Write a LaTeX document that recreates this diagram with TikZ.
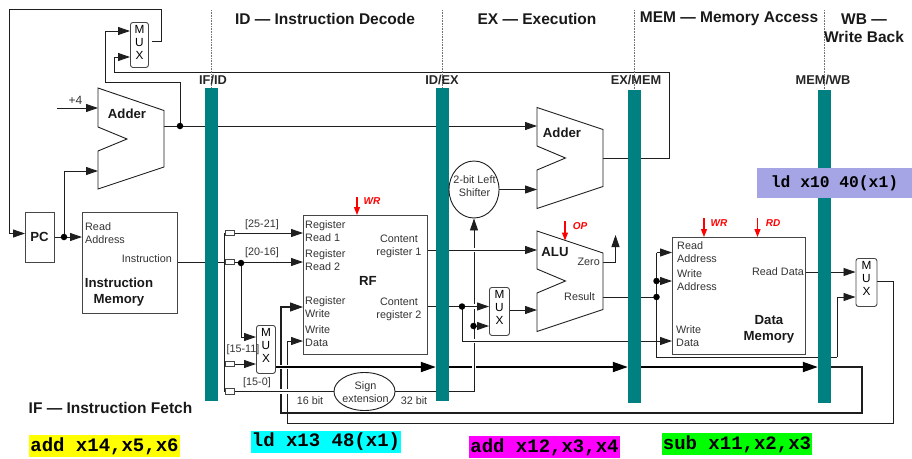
\documentclass[tikz,border=0pt]{standalone}
\usepackage{fontspec}
\setmainfont{Liberation Sans}
\newfontfamily\codefont{Liberation Mono}
\usepackage{xcolor}
\definecolor{pipeTeal}{RGB}{0, 128, 128}
\definecolor{wireDark}{RGB}{30, 30, 30}
\definecolor{boxGrey}{RGB}{70, 70, 70}
\definecolor{instrYellow}{RGB}{255, 255, 0}
\definecolor{instrCyan}{RGB}{0, 255, 255}
\definecolor{instrMagenta}{RGB}{255, 0, 255}
\definecolor{instrGreen}{RGB}{0, 255, 0}
\definecolor{instrLavender}{RGB}{165, 165, 229}
\usepackage{tikz}
\usetikzlibrary{
    arrows.meta,
    shapes.geometric,
    shapes.misc,
    backgrounds,
    calc
}

\begin{document}
\begin{tikzpicture}[
    x=1pt, y=-1pt,
    wire/.style={line width=0.9pt, draw=wireDark},
    wireArrow/.style={
        wire, -{Triangle[length=12pt, width=8pt]}
    },
    wireHalo/.style={
        preaction={draw=white, line width=4.5pt, -}
    },
    busArrow/.style={
        line width=1.8pt, draw=black, -{Triangle[length=15pt, width=10pt]}
    },
    ctrlArrow/.style={
        line width=1.2pt, draw=red, -{Triangle[length=8pt, width=6pt]}
    },
    blockBox/.style={
        rectangle, draw=boxGrey, line width=1pt, fill=white,
        anchor=north west, inner sep=0pt
    },
    muxBox/.style={
        rectangle, rounded corners=2.5pt, draw=boxGrey, line width=0.9pt, fill=white,
        font=\fontsize{11.8}{13}\selectfont, align=center, inner sep=0pt,
        anchor=north west
    },
    tapBox/.style={
        rectangle, draw=boxGrey, line width=0.8pt, fill=white,
        minimum width=9pt, minimum height=5.5pt, inner sep=0pt
    },
    ovalBox/.style={
        ellipse, draw=wireDark, line width=0.9pt, fill=white, inner sep=0pt
    },
    pipeBar/.style={
        rectangle, fill=pipeTeal, inner sep=0pt, minimum width=13pt, minimum height=313pt
    },
    barLabel/.style={
        font=\fontsize{12.8}{14}\selectfont\bfseries, text=black!85, inner sep=0pt
    },
    stageLabel/.style={
        font=\fontsize{15.5}{18}\selectfont\bfseries, text=black!90, inner sep=0pt, align=center
    },
    pinLabel/.style={
        font=\fontsize{10.8}{12.8}\selectfont, text=black!80, inner sep=0pt, align=left
    },
    nameLabel/.style={
        font=\fontsize{13.2}{15.5}\selectfont\bfseries, text=black!90, inner sep=0pt, align=center
    },
    ctrlLabel/.style={
        font=\fontsize{10}{12}\selectfont\bfseries\itshape, text=red, inner sep=0pt
    },
    instrLabel/.style={
        font=\fontsize{19}{22}\selectfont\codefont\bfseries, text=black, inner sep=0pt,
        minimum height=22pt
    },
    dotNode/.style={
        circle, fill=black, inner sep=0pt, minimum size=6.5pt
    },
    stageLine/.style={
        draw=black!55, line width=0.6pt, densely dotted
    },
    unitBody/.style={
        draw=wireDark, line width=0.9pt, fill=white
    }
]
    \useasboundingbox (0,0) rectangle (912,458);

    % Pipeline bars
    \node[pipeBar] (barIfId) at (211.5,244.5) {};
    \node[pipeBar] (barIdEx) at (442.5,244.5) {};
    \node[pipeBar] (barExMem) at (634.5,246.5) {};
    \node[pipeBar] (barMemWb) at (824.5,246.5) {};

    \coordinate (lineIfId) at (211.5,10);
    \coordinate (lineIdEx) at (442.5,10);
    \coordinate (lineExMem) at (634.5,10);
    \coordinate (lineMemWb) at (824.5,10);
    \draw[stageLine] (lineIfId) -- (barIfId.north);
    \draw[stageLine] (lineIdEx) -- (barIdEx.north);
    \draw[stageLine] (lineExMem) -- (barExMem.north);
    \draw[stageLine] (lineMemWb) -- (barMemWb.north);

    \node[barLabel] (labelIfId) at (213,80) {IF/ID};
    \node[barLabel] (labelIdEx) at (442,80) {ID/EX};
    \node[barLabel] (labelExMem) at (636,80) {EX/MEM};
    \node[barLabel] (labelMemWb) at (823,80) {MEM/WB};

    % Stage titles
    \node[stageLabel] (stageId) at (325,19) {ID — Instruction Decode};
    \node[stageLabel] (stageEx) at (537,19) {EX — Execution};
    \node[stageLabel] (stageMem) at (729,19) {MEM — Memory Access};
    \node[stageLabel] (stageWb) at (864,28) {WB —\\Write Back};
    \node[stageLabel] (stageIf) at (110.5,408) {IF — Instruction Fetch};

    % Blocks
    \node[blockBox, minimum width=29pt, minimum height=50pt] (pc) at (25,212) {};
    \node[nameLabel] (pcLabel) at (39.5,237) {PC};
    \node[blockBox, minimum width=95pt, minimum height=101pt] (instMem) at (82,212) {};
    \node[blockBox, minimum width=124pt, minimum height=139pt] (regFile) at (303,215) {};
    \node[blockBox, minimum width=133pt, minimum height=117pt] (dataMem) at (672,237) {};

    \node[muxBox, minimum width=18pt, minimum height=45pt] (muxPc) at (130,22) {M\\U\\X\\[-7pt]~};
    \node[muxBox, minimum width=19pt, minimum height=48pt] (muxReg) at (256,325) {M\\U\\X\\[-5pt]~};
    \node[muxBox, minimum width=20pt, minimum height=48pt] (muxAlu) at (489,287) {M\\U\\X\\[-5pt]~};
    \node[muxBox, minimum width=21pt, minimum height=48pt] (muxWb) at (855.5,258) {M\\U\\X\\[-5pt]~};

    \node[ovalBox, minimum width=61pt, minimum height=38pt] (signExt) at (364.5,391.5) {};
    \node[ovalBox, minimum width=50pt, minimum height=57pt] (shifter) at (474,189.5) {};
    \node[pinLabel, align=center] (signExtText) at (365.5,392) {Sign\\extension};
    \node[pinLabel, align=center] (shifterText) at (474.5,186.5) {2-bit Left\\Shifter};

    % Adder and ALU bodies
    \draw[unitBody] (98,88) -- (164,110.5) -- (164,167) -- (98,189) -- (98,151) -- (127,139) -- (98,127) -- cycle;
    \draw[unitBody] (537,107.5) -- (603,129.5) -- (603,186.5) -- (537,208.5) -- (537,170) -- (565.5,158) -- (537,146) -- cycle;
    \draw[unitBody] (537,231) -- (603,253) -- (603,309.5) -- (537,331.5) -- (537,293) -- (565.5,281) -- (537,269) -- cycle;
    \node[nameLabel] (adderPcLabel) at (127,113.5) {Adder};
    \node[nameLabel] (adderBrLabel) at (562,133) {Adder};
    \node[nameLabel] (aluLabel) at (555,252.5) {ALU};

    % Tap boxes on the instruction wire
    \node[tapBox] (tapRs) at (230,233) {};
    \node[tapBox] (tapRt) at (230,262) {};
    \node[tapBox] (tapRd) at (230,364) {};
    \node[tapBox] (tapImm) at (230,391.5) {};

    % Block texts
    \node[pinLabel, anchor=west] (imRead) at (85,233.5) {Read\\Address};
    \node[pinLabel, anchor=east] (imInstr) at (172,259) {Instruction};
    \node[nameLabel] (imName) at (119,292) {Instruction\\Memory};

    \node[pinLabel, anchor=west] (rfRead1) at (305,231.5) {Register\\Read 1};
    \node[pinLabel, anchor=west] (rfRead2) at (305,260) {Register\\Read 2};
    \node[pinLabel, anchor=west] (rfWrite) at (305,307.5) {Register\\Write};
    \node[pinLabel, anchor=west] (rfData) at (305,336) {Write\\Data};
    \node[pinLabel, align=center] (rfOut1) at (399,246.5) {Content\\register 1};
    \node[pinLabel, align=center] (rfOut2) at (399,309.5) {Content\\register 2};
    \node[nameLabel] (rfName) at (368,281) {RF};

    \node[pinLabel, anchor=east] (aluZero) at (600,262) {Zero};
    \node[pinLabel] (aluResult) at (579.5,297) {Result};

    \node[pinLabel, anchor=west] (dmRead) at (677,252.5) {Read\\Address};
    \node[pinLabel, anchor=west] (dmWrite) at (677,280.5) {Write\\Address};
    \node[pinLabel, anchor=west] (dmData) at (676,336.5) {Write\\Data};
    \node[pinLabel, anchor=east] (dmOut) at (804,272) {Read Data};
    \node[nameLabel] (dmName) at (769,329.5) {Data\\Memory};

    % Wire labels
    \node[pinLabel, font=\fontsize{12}{14}\selectfont] (plusFour) at (75.5,100) {+4};
    \node[pinLabel] (bits2521) at (262,224.5) {[25-21]};
    \node[pinLabel] (bits2016) at (262,252.5) {[20-16]};
    \node[pinLabel] (bits1511) at (243,349.5) {[15-11]};
    \node[pinLabel] (bits150) at (257,383) {[15-0]};
    \node[pinLabel] (bits16) at (310,400.5) {16 bit};
    \node[pinLabel] (bits32) at (414,401) {32 bit};

    % Control signals
    \coordinate (ctrlRfTop) at (357,197);
    \coordinate (ctrlAluTop) at (565,221);
    \coordinate (ctrlAluEnd) at (565,240.5);
    \coordinate (ctrlDmWrTop) at (704,218);
    \coordinate (ctrlDmRdTop) at (757.5,218);
    \draw[ctrlArrow] (ctrlRfTop) -- (ctrlRfTop |- regFile.north);
    \draw[ctrlArrow] (ctrlAluTop) -- (ctrlAluEnd);
    \draw[ctrlArrow] (ctrlDmWrTop) -- (ctrlDmWrTop |- dataMem.north);
    \draw[ctrlArrow] (ctrlDmRdTop) -- (ctrlDmRdTop |- dataMem.north);
    \node[ctrlLabel] (ctrlRfLabel) at (372,201) {WR};
    \node[ctrlLabel] (ctrlOpLabel) at (580,226) {OP};
    \node[ctrlLabel] (ctrlWrLabel) at (719,223) {WR};
    \node[ctrlLabel] (ctrlRdLabel) at (773,223) {RD};

    % Junction dots
    \node[dotNode] (dotAdder) at (180,126) {};
    \node[dotNode] (dotPc) at (64,237) {};
    \node[dotNode] (dotRt) at (241,263) {};
    \node[dotNode] (dotReg2) at (462,306.5) {};
    \node[dotNode] (dotImm) at (473.5,326) {};
    \node[dotNode] (dotAddr) at (656.5,281) {};
    \node[dotNode] (dotResult) at (656.5,297) {};

    % Pin coordinates
    \coordinate (adderPcIn1) at (98,108);
    \coordinate (adderPcIn2) at (98,171);
    \coordinate (adderPcOut) at (164,126);
    \coordinate (adderBrIn1) at (537,126);
    \coordinate (adderBrIn2) at (537,189.5);
    \coordinate (adderBrOut) at (603,158);
    \coordinate (aluIn1) at (537,250);
    \coordinate (aluIn2) at (537,310);
    \coordinate (aluZeroOut) at (603,262);
    \coordinate (aluResultOut) at (603,297);
    \coordinate (plusFourStart) at (57,108);

    \begin{scope}[on background layer]
        % Fetch stage
        \draw[wireArrow] (plusFourStart) -- (adderPcIn1);
        \draw[wireArrow] (dotPc.center) -- (dotPc.center -| instMem.west);
        \draw[wire] (pc.east |- dotPc) -- (dotPc.center);
        \draw[wireArrow] (dotPc.center) |- (adderPcIn2);
        \draw[wire] (adderPcOut) -- (dotAdder.center);
        \draw[wireArrow] (dotAdder.center) -- (adderBrIn1);
        \draw[wireArrow] (dotAdder.center) -- ++(0,-44) -| ++(-75,-51) -- ++(25,0);
        \draw[wireArrow] (adderBrOut) -| (669,72) -| (114,57) -- (muxPc.west |- 0,57);
        \draw[wireArrow] (152,41) -| (161,9.5) -| (9.5,233.5) -- (pc.west |- 0,233.5);

        % Decode stage
        \draw[wire] (instMem.east |- 0,262) -- (tapRt.west);
        \draw[wire] (224.5,233) -- (224.5,391.5);
        \draw[wire] (224.5,233) -- (tapRs.west);
        \draw[wire] (224.5,364) -- (tapRd.west);
        \draw[wire] (224.5,391.5) -- (tapImm.west);
        \draw[wireArrow] (tapRs.east) -- (tapRs.east -| regFile.west);
        \draw[wireArrow] (tapRt.east) -- (tapRt.east -| regFile.west);
        \draw[wireArrow] (dotRt.center) |- (muxReg.west |- 0,337);
        \draw[wireArrow] (tapRd.east) -- (tapRd.east -| muxReg.west);

        % Write back wires
        \draw[wire, line width=1.1pt, -{Triangle[length=13pt, width=9pt]}] (barMemWb.east |- 0,367) -| (862,413) -| (281,307) -- (regFile.west |- 0,307);
        \draw[wireArrow] (muxWb.east |- 0,281) -| (893.5,423) -| (287,341) -- (regFile.west |- 0,341);

        % Register number bus, over the write back wires
        \draw[busArrow, wireHalo] (muxReg.east |- 0,367) -- (barIdEx.west |- 0,367);
        \draw[busArrow] (barIdEx.east |- 0,367) -- (barExMem.west |- 0,367);
        \draw[busArrow] (barExMem.east |- 0,367) -- (barMemWb.west |- 0,367);

        % Sign extension
        \draw[wire, wireHalo] (tapImm.east) -- (signExt.west);
        \draw[wireArrow, wireHalo] (signExt.east) -| (shifter.south);
        \draw[wireArrow] (dotImm.center) -- (dotImm.center -| muxAlu.west);

        % Execute stage
        \draw[wireArrow, wireHalo] (regFile.east |- aluIn1) -- (aluIn1);
        \draw[wireArrow, wireHalo] (regFile.east |- dotReg2) -- (dotReg2 -| muxAlu.west);
        \draw[wireArrow, wireHalo] (dotReg2.center) |- (dataMem.west |- 0,341);
        \draw[wireArrow] (shifter.east) -- (adderBrIn2);
        \draw[wireArrow] (muxAlu.east |- aluIn2) -- (aluIn2);
        \draw[wireArrow] (aluZeroOut) -| (615.5,235);
        \draw[wire] (aluResultOut) -- (dotResult.center);

        % Memory stage
        \draw[wireArrow] (656.5,252.5) -- (dataMem.west |- 0,252.5);
        \draw[wireArrow] (dotAddr.center) -- (dotAddr.center -| dataMem.west);
        \draw[wire] (656.5,252.5) -- (656.5,357) -- (837,357);
        \draw[wireArrow] (837,357) |- (muxWb.west |- 0,297);
        \draw[wireArrow] (dmOut.east -| dataMem.east) -- (muxWb.west |- dmOut.east);
    \end{scope}

    % Instruction tags
    \node[instrLabel, fill=instrYellow, minimum width=151pt] (tagFetch) at (104.5,446) {add x14,x5,x6};
    \node[instrLabel, fill=instrCyan, minimum width=150pt] (tagDecode) at (326,442) {ld x13 48(x1)};
    \node[instrLabel, fill=instrMagenta, minimum width=151pt] (tagExec) at (544.5,447) {add x12,x3,x4};
    \node[instrLabel, fill=instrGreen, minimum width=150pt] (tagMem) at (737,444) {sub x11,x2,x3};
    \node[instrLabel, font=\fontsize{16.3}{20}\selectfont\codefont\bfseries, fill=instrLavender, minimum width=155pt, minimum height=30pt] (tagWb) at (834.5,183) {ld x10 40(x1)};

\end{tikzpicture}
\end{document}
